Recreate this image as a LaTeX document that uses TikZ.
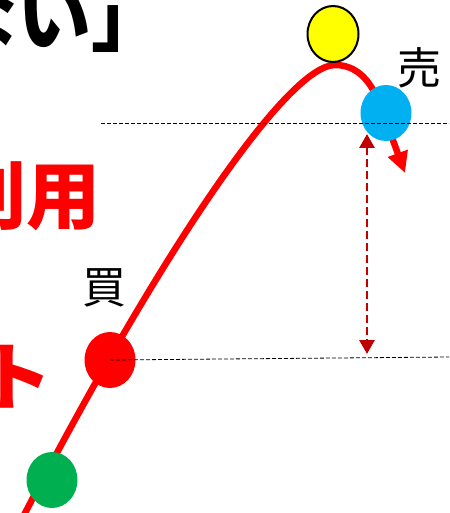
\documentclass[tikz,border=0pt]{standalone}
\usepackage{fontspec}
\newfontfamily\jp{Noto Sans CJK JP}
\usetikzlibrary{arrows.meta,shapes.geometric}
\definecolor{mred}{HTML}{FF0000}
\definecolor{darkred}{HTML}{C00000}
\definecolor{mgreen}{HTML}{00B050}
\definecolor{myellow}{HTML}{FFFF00}
\definecolor{mblue}{HTML}{00B0F0}

\begin{document}
\begin{tikzpicture}[x=1pt,y=-1pt,
    spot/.style={ellipse,minimum width=51pt,minimum height=56pt,inner sep=0pt},
    big/.style={font=\jp\bfseries\fontsize{74}{74}\selectfont,inner sep=0pt},
    kanji/.style={font=\jp\fontsize{44}{44}\selectfont,inner sep=0pt},
    level/.style={line width=0.8pt,dash pattern=on 4pt off 2pt},
    gap/.style={{Triangle[length=14pt,width=15pt]}-{Triangle[length=14pt,width=15pt]},line width=2.8pt,dash pattern=on 8pt off 4pt,darkred},
    trend/.style={-{Triangle[length=21pt,width=20pt]},line width=6.5pt,mred}]
    \useasboundingbox (0,0) rectangle (449,513);
    \clip (0,0) rectangle (449,513);
    \coordinate (start) at (24,515);
    \coordinate (peak) at (335,65);
    \coordinate (bend) at (380,105);
    \coordinate (tip) at (405,173);
    \draw[trend] (start) .. controls (170,235) and (290,65) .. (peak)
        .. controls (355,65) and (370,78) .. (bend) -- (tip);
    \node[spot,fill=mgreen] (low) at (52,480) {};
    \node[spot,fill=mred] (buy) at (110,360) {};
    \node[spot,fill=myellow,draw=black,line width=2pt] (top) at (333,34) {};
    \node[spot,fill=mblue] (sell) at (386,113) {};
    \coordinate (upend) at (449,123);
    \coordinate (lowend) at (449,357);
    \coordinate (upstart) at (101,123);
    \draw[level] (upstart) -- (upend);
    \draw[level] (buy.center) -- (lowend);
    \coordinate (gaptop) at (367,134);
    \coordinate (gapbot) at (367,354);
    \draw[gap] (gaptop) -- (gapbot);
    \node[kanji] (buylabel) at (104,288) {買};
    \node[kanji] (selllabel) at (419,68) {売};
    \node[big,anchor=base east] (title) at (166,46) {ない」};
    \node[big,mred,anchor=base east] (use) at (101,223) {利用};
    \node[big,mred,anchor=base west] (point) at (-22,404) {ト};
\end{tikzpicture}
\end{document}
